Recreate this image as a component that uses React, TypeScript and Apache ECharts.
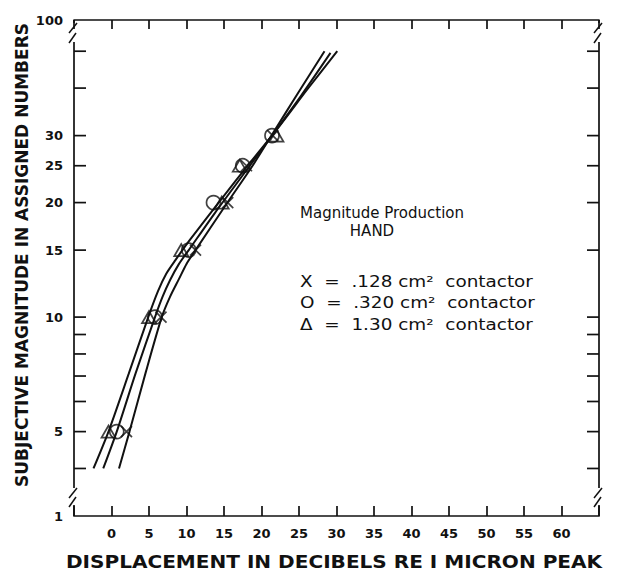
import { useEffect, useRef } from 'react';
import * as echarts from 'echarts';

// ---- axes ----
const X_MIN = -5;
const X_MAX = 65;
const X_INTERVAL = 5;
const Y_MIN = 3;
const Y_MAX = 60.4;

const Y_TICK_VALUES = [4, 5, 6, 7, 8, 9, 10, 15, 20, 25, 30, 40, 50];
const Y_LABEL_VALUES = [3, 5, 10, 15, 20, 25, 30, 60.4];
const Y_LABEL_TEXTS = ['1', '5', '10', '15', '20', '25', '30', '100'];

// ---- data points (magnitude vs displacement dB) ----
const MAGNITUDES = [5, 10, 15, 20, 25, 30];
const DB_SMALL = [2.0, 6.6, 11.2, 15.5, 18.0, 21.5]; // X  .128 cm2
const DB_MEDIUM = [0.7, 5.8, 10.3, 13.6, 17.5, 21.4]; // O  .320 cm2
const DB_LARGE = [-0.4, 5.0, 9.3, 14.7, 17.1, 22.0]; // Δ  1.30 cm2

// ---- fitted curves ----
const CURVE_SMALL_DB = [1.0, 2.4, 4.6, 6.7, 7.8, 9.0, 10.0, 11.2, 15.6, 18.7, 21.6, 25.0, 28.4];
const CURVE_SMALL_MAG = [4.0, 5.0, 7.2, 10.0, 11.3, 12.6, 13.8, 15.0, 20.2, 24.8, 30.6, 39.2, 50];
const CURVE_MEDIUM_DB = [-1.1, 0.7, 3.2, 5.8, 6.8, 7.8, 9.0, 10.3, 13.8, 17.5, 21.4, 25.2, 29.2];
const CURVE_MEDIUM_MAG = [4.0, 5.0, 7.1, 10.0, 11.3, 12.5, 13.8, 15.0, 18.8, 23.6, 30.0, 38.0, 49.5];
const CURVE_LARGE_DB = [-2.4, -0.4, 2.3, 4.9, 6.2, 7.3, 8.5, 10.5, 14.7, 18.5, 22.3, 26.2, 30.1];
const CURVE_LARGE_MAG = [4.0, 5.0, 7.1, 10.0, 11.7, 13.0, 14.1, 16.0, 20.5, 25.5, 31.6, 39.9, 50];

const Y_TITLE = 'SUBJECTIVE MAGNITUDE IN ASSIGNED NUMBERS';
const X_TITLE = 'DISPLACEMENT IN DECIBELS RE I MICRON PEAK';
const NOTE_TITLE = 'Magnitude Production';
const NOTE_SUB = 'HAND';
const LEGEND_LINES = ['X  =  .128 cm²  contactor', 'O  =  .320 cm²  contactor', 'Δ  =  1.30 cm²  contactor'];

const GL = 74;
const GT = 20;
const GR = 599;
const GB = 516;
const W = 618;
const H = 575;

const FONT = 'DejaVu Sans';
const INK = '#111';

const pairs = (xs: number[], ys: number[]) => xs.map((x, i) => [x, ys[i]]);

export default function App() {
  const ref = useRef<HTMLDivElement>(null);
  useEffect(() => {
    if (!ref.current) return;
    const chart = echarts.init(ref.current, null, { renderer: 'svg' });

    const lineStyle = { color: INK, width: 2 };
    const curve = (xs: number[], ys: number[]) => ({
      type: 'line',
      data: pairs(xs, ys),
      showSymbol: false,
      smooth: 0.25,
      lineStyle,
      silent: true,
      z: 2,
    });
    const markerStyle = { color: 'none', borderColor: INK, borderWidth: 1.7 };
    const scatter = (xs: number[], symbol: string, size: number | number[]) => ({
      type: 'scatter',
      data: pairs(xs, MAGNITUDES),
      symbol,
      symbolSize: size,
      itemStyle: markerStyle,
      silent: true,
      z: 3,
    });

    const seg = (x1: number, y1: number, x2: number, y2: number, w = 1.7) => ({
      type: 'line',
      shape: { x1, y1, x2, y2 },
      style: { stroke: INK, lineWidth: w },
      silent: true,
    });

    const sideLines = (x: number) => [
      seg(x, GT, x, GT + 3),
      seg(x, GT + 22, x, GB - 28),
      seg(x, GB - 11, x, GB),
      seg(x - 5, GT + 13, x + 3, GT + 3, 1.5),
      seg(x - 5, GT + 23, x + 2, GT + 13, 1.5),
      seg(x - 5, GB - 18, x + 3, GB - 28, 1.5),
      seg(x - 5, GB - 9, x + 2, GB - 19, 1.5),
    ];

    const textStyle = (text: string, size: number, bold: boolean, align = 'left') => ({
      text,
      align,
      verticalAlign: 'middle',
      fontFamily: FONT,
      fontWeight: bold ? 'bold' : 'normal',
      fontSize: size,
      fill: INK,
    });

    chart.setOption({
      animation: false,
      backgroundColor: '#fff',
      grid: { left: GL, top: GT, right: W - GR, bottom: H - GB, containLabel: false },
      xAxis: [
        {
          type: 'value',
          min: X_MIN,
          max: X_MAX,
          interval: X_INTERVAL,
          position: 'bottom',
          axisLine: { show: true, lineStyle: { color: INK, width: 1.7 } },
          axisTick: { show: true, inside: true, length: 10, lineStyle: { color: INK, width: 1.7 } },
          axisLabel: {
            margin: 11,
            color: INK,
            fontFamily: FONT,
            fontWeight: 'bold',
            fontSize: 13,
            formatter: (v: number) => (v < 0 || v > 60 ? '' : String(v)),
          },
          splitLine: { show: false },
        },
        {
          type: 'value',
          min: X_MIN,
          max: X_MAX,
          interval: X_INTERVAL,
          position: 'top',
          axisLine: { show: true, lineStyle: { color: INK, width: 1.7 } },
          axisTick: { show: true, inside: true, length: 9, lineStyle: { color: INK, width: 1.7 } },
          axisLabel: { show: false },
          splitLine: { show: false },
        },
      ],
      yAxis: {
        type: 'log',
        logBase: 10,
        min: Y_MIN,
        max: Y_MAX,
        axisLine: { show: false },
        axisTick: { show: false },
        axisLabel: { show: false },
        splitLine: { show: false },
      },
      series: [
        curve(CURVE_SMALL_DB, CURVE_SMALL_MAG),
        curve(CURVE_MEDIUM_DB, CURVE_MEDIUM_MAG),
        curve(CURVE_LARGE_DB, CURVE_LARGE_MAG),
        scatter(DB_SMALL, 'path://M0 0L10 10M10 0L0 10', 11),
        scatter(DB_MEDIUM, 'circle', 14),
        scatter(DB_LARGE, 'triangle', [14, 12]),
        {
          type: 'custom',
          data: Y_TICK_VALUES.map((v) => [X_MIN, v]),
          silent: true,
          z: 4,
          renderItem: (_p: any, api: any) => {
            const v = api.value(1);
            const l = api.coord([X_MIN, v]);
            const r = api.coord([X_MAX, v]);
            return {
              type: 'group',
              children: [
                { type: 'line', shape: { x1: l[0], y1: l[1], x2: l[0] + 12, y2: l[1] }, style: { stroke: INK, lineWidth: 1.7 } },
                { type: 'line', shape: { x1: r[0] - 12, y1: r[1], x2: r[0], y2: r[1] }, style: { stroke: INK, lineWidth: 1.7 } },
              ],
            };
          },
        },
        {
          type: 'custom',
          data: Y_LABEL_VALUES.map((v) => [X_MIN, v]),
          silent: true,
          z: 4,
          renderItem: (p: any, api: any) => {
            const v = api.value(1);
            const l = api.coord([X_MIN, v]);
            return {
              type: 'text',
              x: l[0] - 11,
              y: l[1],
              style: textStyle(Y_LABEL_TEXTS[p.dataIndex], 13, true, 'right'),
            };
          },
        },
      ],
      graphic: [
        ...sideLines(GL),
        ...sideLines(GR),
        {
          type: 'text',
          x: 22,
          y: 255,
          rotation: Math.PI / 2,
          style: textStyle(Y_TITLE, 17, true, 'center'),
        },
        {
          type: 'text',
          x: 334,
          y: 562,
          scaleX: 1.18,
          style: textStyle(X_TITLE, 17, true, 'center'),
        },
        { type: 'text', x: 300, y: 213, style: textStyle(NOTE_TITLE, 15, false) },
        { type: 'text', x: 372, y: 231, style: textStyle(NOTE_SUB, 15, false, 'center') },
        ...LEGEND_LINES.map((t, i) => ({
          type: 'text',
          x: 300,
          y: 281 + i * 21.5,
          scaleX: 1.15,
          style: textStyle(t, 16, false),
        })),
      ],
    });
    return () => chart.dispose();
  }, []);
  return <div ref={ref} style={{ position: 'fixed', left: 0, top: 0, width: W, height: H }} />;
}
